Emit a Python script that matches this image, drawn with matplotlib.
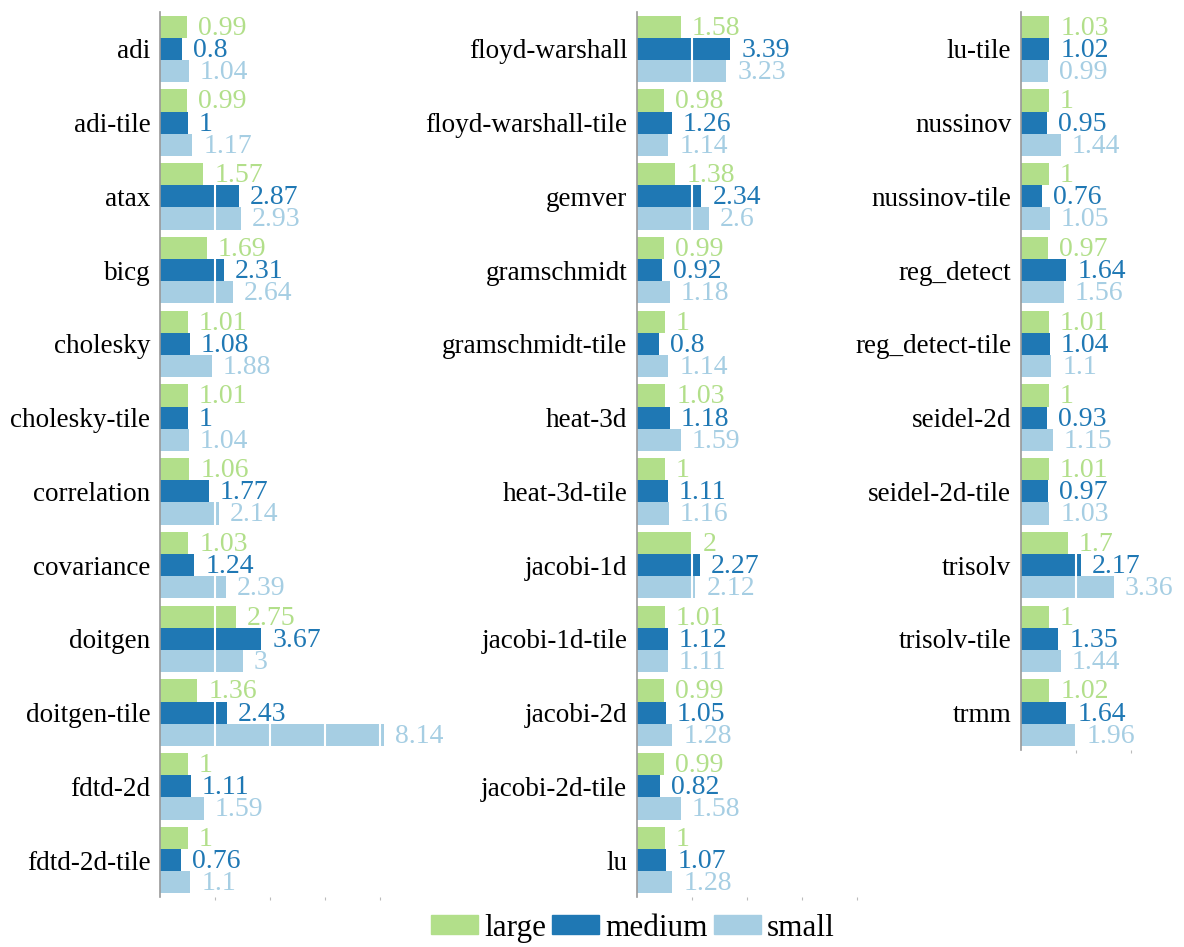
import matplotlib.pyplot as plt
from matplotlib.patches import Patch

plt.rcParams['font.family'] = ['Liberation Serif', 'DejaVu Serif']

# speedups per benchmark: large / medium / small
names1 = ['adi', 'adi-tile', 'atax', 'bicg', 'cholesky', 'cholesky-tile', 'correlation',
          'covariance', 'doitgen', 'doitgen-tile', 'fdtd-2d', 'fdtd-2d-tile']
large1 = [0.99, 0.99, 1.57, 1.69, 1.01, 1.01, 1.06, 1.03, 2.75, 1.36, 1, 1]
medium1 = [0.8, 1, 2.87, 2.31, 1.08, 1, 1.77, 1.24, 3.67, 2.43, 1.11, 0.76]
small1 = [1.04, 1.17, 2.93, 2.64, 1.88, 1.04, 2.14, 2.39, 3, 8.14, 1.59, 1.1]

names2 = ['floyd-warshall', 'floyd-warshall-tile', 'gemver', 'gramschmidt', 'gramschmidt-tile',
          'heat-3d', 'heat-3d-tile', 'jacobi-1d', 'jacobi-1d-tile', 'jacobi-2d', 'jacobi-2d-tile', 'lu']
large2 = [1.58, 0.98, 1.38, 0.99, 1, 1.03, 1, 2, 1.01, 0.99, 0.99, 1]
medium2 = [3.39, 1.26, 2.34, 0.92, 0.8, 1.18, 1.11, 2.27, 1.12, 1.05, 0.82, 1.07]
small2 = [3.23, 1.14, 2.6, 1.18, 1.14, 1.59, 1.16, 2.12, 1.11, 1.28, 1.58, 1.28]

names3 = ['lu-tile', 'nussinov', 'nussinov-tile', 'reg_detect', 'reg_detect-tile',
          'seidel-2d', 'seidel-2d-tile', 'trisolv', 'trisolv-tile', 'trmm']
large3 = [1.03, 1, 1, 0.97, 1.01, 1, 1.01, 1.7, 1, 1.02]
medium3 = [1.02, 0.95, 0.76, 1.64, 1.04, 0.93, 0.97, 2.17, 1.35, 1.64]
small3 = [0.99, 1.44, 1.05, 1.56, 1.1, 1.15, 1.03, 3.36, 1.44, 1.96]

colors = {'large': '#b2df8a', 'medium': '#1f78b4', 'small': '#a6cee3'}

W, H = 1184, 947
fig = plt.figure(figsize=(W / 100, H / 100), dpi=100)

panels = [
    (160, 12, names1, large1, medium1, small1),
    (637, 12, names2, large2, medium2, small2),
    (1021, 10, names3, large3, medium3, small3),
]

pitch = 73.75  # px per group
for left, n, names, lg, md, sm in panels:
    top, h = 12, n * pitch
    ax = fig.add_axes([left / W, 1 - (top + h) / H, 237 / W, h / H])
    ys = list(range(n))
    bh = 0.3
    for off, vals, key in [(-bh, lg, 'large'), (0, md, 'medium'), (bh, sm, 'small')]:
        pos = [y + off for y in ys]
        ax.barh(pos, vals, height=bh, color=colors[key], zorder=2, linewidth=0)
        for p, v in zip(pos, vals):
            ax.annotate(f'{v:g}', (v, p), xytext=(8, -1), textcoords='offset points',
                        va='center', ha='left', fontsize=20, color=colors[key], zorder=4)
    for gx in [2, 4, 6, 8]:
        ax.axvline(gx, color='white', lw=1.5, zorder=3)
    ax.set_xlim(0, 8.6)
    ax.set_ylim(n - 0.5, -0.5)
    ax.set_yticks(ys)
    ax.set_yticklabels(names, fontsize=19.5)
    ax.tick_params(axis='y', length=0, pad=7)
    ax.set_xticks([2, 4, 6, 8])
    ax.set_xticklabels([])
    ax.tick_params(axis='x', length=2, color='#bbbbbb', direction='out')
    for s in ['top', 'right', 'bottom']:
        ax.spines[s].set_visible(False)
    ax.spines['left'].set_color('#999999')
    ax.spines['left'].set_linewidth(1.2)
    ax.set_facecolor('none')

handles = [Patch(color=colors[k], label=k) for k in ['large', 'medium', 'small']]
fig.legend(handles=handles, loc='center', bbox_to_anchor=(633 / W, 1 - 928 / H), ncol=3,
           frameon=False, fontsize=22.5, handlelength=1.5, handleheight=0.6,
           handletextpad=0.2, columnspacing=0.2, borderpad=0.1)

fig.savefig('out.png', dpi=100)
